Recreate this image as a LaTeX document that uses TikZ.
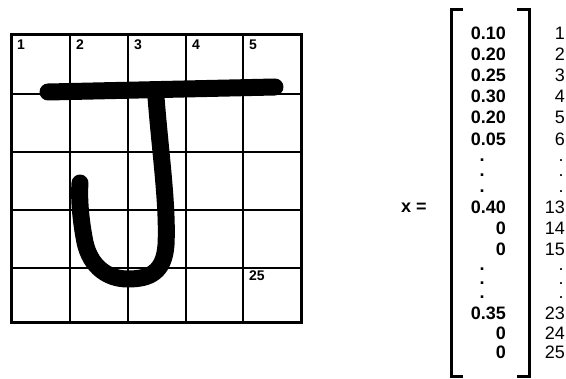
\documentclass[tikz,border=0pt]{standalone}
\usepackage{fontspec}
\setmainfont{Liberation Sans}
\usetikzlibrary{positioning}

\begin{document}
\begin{tikzpicture}[
    x=1pt, y=-1pt,
    gridline/.style={line width=1.3pt},
    frameline/.style={line width=3pt},
    penstroke/.style={line width=17pt, line cap=round, line join=round},
    cellnum/.style={font=\fontsize{14}{14}\selectfont\bfseries, inner sep=0pt, anchor=north west},
    entry/.style={font=\fontsize{18}{18}\selectfont\bfseries, inner sep=0pt, anchor=base east},
    idx/.style={font=\fontsize{18}{18}\selectfont, inner sep=0pt, anchor=base east},
    dotmark/.style={text height=3pt, text depth=0pt, anchor=base},
    bracket/.style={line width=3pt}
]
\useasboundingbox (0,0) rectangle (566,379);

% 5 x 5 grid with cell numbers
\foreach \gx in {70,128,186,243} \draw[gridline] (\gx,35) -- (\gx,323);
\foreach \gy in {94,152,210,268} \draw[gridline] (11,\gy) -- (301,\gy);
\draw[frameline] (11,35) rectangle (301,323);
\foreach \n/\gx in {1/11,2/70,3/128,4/186,5/243}
    \node[cellnum] (c\n) at (\gx+6,40) {\n};
\node[cellnum] (c25) at (249,271) {25};

% the handwritten J
\draw[penstroke] (48,92) -- (275,87);
\draw[penstroke] (156,97) .. controls (160,150) and (168,205) .. (166,245)
    .. controls (164,272) and (150,279) .. (128,279)
    .. controls (105,279) and (88,264) .. (84,237)
    .. controls (80,215) and (79,195) .. (80,183);

% feature vector
\node[entry, anchor=base west] (lhs) at (401,213) {x\hspace{5pt}=};
\draw[bracket] (463,10) -| (451,377) -- (463,377);
\draw[bracket] (517,10) -| (529,377) -- (517,377);
\foreach \ry/\val/\num in {34/0.10/1, 55/0.20/2, 76/0.25/3, 97/0.30/4, 118/0.20/5, 140/0.05/6,
    208/0.40/13, 229/0/14, 250/0/15, 314/0.35/23, 334/0/24, 353/0/25} {
    \node[entry] (v\num) at (506,\ry+6) {\val};
    \node[idx] (i\num) at (565,\ry+6) {\num};
}
\foreach \ry [count=\k] in {160,175,191,269,283,297} {
    \node[entry, dotmark] (vd\k) at (482,\ry+2) {.};
    \node[idx, dotmark] (id\k) at (561,\ry+2) {.};
}
\end{tikzpicture}
\end{document}
